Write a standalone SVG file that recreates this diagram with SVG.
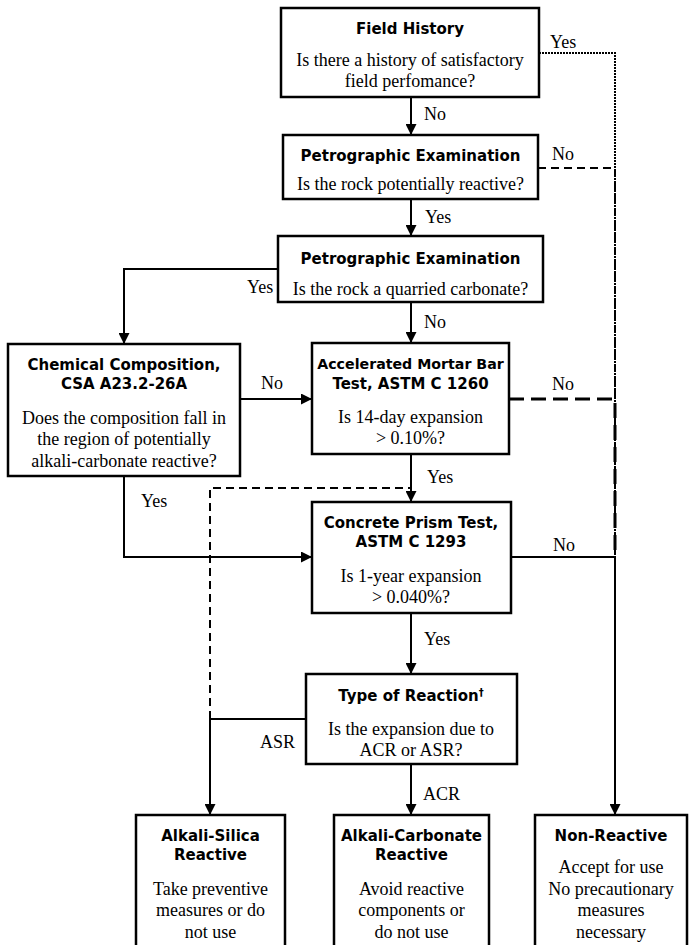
<svg xmlns="http://www.w3.org/2000/svg" width="689" height="945" viewBox="0 0 689 945">
<style>
  .box { fill: #fff; stroke: #000; stroke-width: 2.5; }
  .t { font-family: "DejaVu Sans", "Liberation Sans", sans-serif; font-weight: bold; font-size: 15px; text-anchor: middle; fill: #000; }
  .b { font-family: "Liberation Serif", "Times New Roman", serif; font-size: 18px; text-anchor: middle; fill: #000; }
  .l { font-family: "Liberation Serif", "Times New Roman", serif; font-size: 18px; fill: #000; }
  .c { fill: none; stroke: #000; stroke-width: 2; }
  .dot { fill: none; stroke: #000; stroke-width: 2; stroke-dasharray: 2 1; }
  .dash { fill: none; stroke: #000; stroke-width: 2; stroke-dasharray: 8 5; }
  .ldash { fill: none; stroke: #000; stroke-width: 3; stroke-dasharray: 15 7; }
  .sup { font-size: 10px; }
  .narrow { font-size: 14.2px; }
</style>
<defs>
  <marker id="ah" viewBox="0 0 10 10" refX="10" refY="5" markerWidth="11" markerHeight="11" markerUnits="userSpaceOnUse" orient="auto">
    <path d="M0,0 L10,5 L0,10 z" fill="#000"/>
  </marker>
</defs>

<g id="connectors">
  <path class="c" d="M411,97 V135" marker-end="url(#ah)"/>
  <path class="c" d="M411,199 V236" marker-end="url(#ah)"/>
  <path class="c" d="M278,269 H124 V344" marker-end="url(#ah)"/>
  <path class="c" d="M411,302 V343" marker-end="url(#ah)"/>
  <path class="c" d="M240,399 H312" marker-end="url(#ah)"/>
  <path class="c" d="M411,454 V502" marker-end="url(#ah)"/>
  <path class="c" d="M124,476 V557 H312" marker-end="url(#ah)"/>
  <path class="c" d="M411,613 V674" marker-end="url(#ah)"/>
  <path class="c" d="M306,719 H210 V815" marker-end="url(#ah)"/>
  <path class="c" d="M411,764 V815" marker-end="url(#ah)"/>
  <path class="dash" d="M210,719 V488 H411"/>
  <path class="dot" d="M539,53 H615 V557"/>
  <path class="dash" d="M538,168 H615 V557"/>
  <path class="ldash" d="M509,399 H615 V557"/>
  <path class="c" d="M511,557 H615 V815" marker-end="url(#ah)"/>
</g>

<g id="labels">
  <text class="l" x="550" y="48">Yes</text>
  <text class="l" x="424" y="120">No</text>
  <text class="l" x="552" y="160">No</text>
  <text class="l" x="425" y="223">Yes</text>
  <text class="l" x="247" y="293">Yes</text>
  <text class="l" x="424" y="328">No</text>
  <text class="l" x="261" y="389">No</text>
  <text class="l" x="552" y="390">No</text>
  <text class="l" x="427" y="483">Yes</text>
  <text class="l" x="141" y="507">Yes</text>
  <text class="l" x="553" y="551">No</text>
  <text class="l" x="424" y="645">Yes</text>
  <text class="l" x="260" y="748">ASR</text>
  <text class="l" x="423" y="800">ACR</text>
</g>

<g id="field-history">
  <rect class="box" x="281" y="8" width="258" height="89"/>
  <text class="t" x="410" y="34">Field History</text>
  <text class="b" x="410" y="66">Is there a history of satisfactory</text>
  <text class="b" x="410" y="87">field perfomance?</text>
</g>

<g id="petro-1">
  <rect class="box" x="283" y="135" width="255" height="64"/>
  <text class="t" x="410.5" y="161">Petrographic Examination</text>
  <text class="b" x="410.5" y="190">Is the rock potentially reactive?</text>
</g>

<g id="petro-2">
  <rect class="box" x="278" y="236" width="265" height="66"/>
  <text class="t" x="410.5" y="264">Petrographic Examination</text>
  <text class="b" x="410.5" y="295">Is the rock a quarried carbonate?</text>
</g>

<g id="chemical">
  <rect class="box" x="8" y="344" width="232" height="132"/>
  <text class="t" x="124" y="370">Chemical Composition,</text>
  <text class="t" x="124" y="389">CSA A23.2-26A</text>
  <text class="b" x="124" y="424">Does the composition fall in</text>
  <text class="b" x="124" y="445">the region of potentially</text>
  <text class="b" x="124" y="467">alkali-carbonate reactive?</text>
</g>

<g id="mortar-bar">
  <rect class="box" x="312" y="343" width="197" height="111"/>
  <text class="t narrow" x="410.5" y="369">Accelerated Mortar Bar</text>
  <text class="t" x="410.5" y="389">Test, ASTM C 1260</text>
  <text class="b" x="410.5" y="423">Is 14-day expansion</text>
  <text class="b" x="410.5" y="444">&gt; 0.10%?</text>
</g>

<g id="concrete-prism">
  <rect class="box" x="312" y="502" width="199" height="111"/>
  <text class="t" x="411" y="528">Concrete Prism Test,</text>
  <text class="t" x="411" y="547">ASTM C 1293</text>
  <text class="b" x="411" y="582">Is 1-year expansion</text>
  <text class="b" x="411" y="603">&gt; 0.040%?</text>
</g>

<g id="reaction-type">
  <rect class="box" x="306" y="674" width="211" height="90"/>
  <text class="t" x="411" y="701">Type of Reaction<tspan class="sup" dy="-5">†</tspan></text>
  <text class="b" x="411" y="735">Is the expansion due to</text>
  <text class="b" x="411" y="756">ACR or ASR?</text>
</g>

<g id="alkali-silica">
  <rect class="box" x="136" y="815" width="149" height="145"/>
  <text class="t" x="210.5" y="841">Alkali-Silica</text>
  <text class="t" x="210.5" y="860">Reactive</text>
  <text class="b" x="210.5" y="895">Take preventive</text>
  <text class="b" x="210.5" y="916">measures or do</text>
  <text class="b" x="210.5" y="938">not use</text>
</g>

<g id="alkali-carbonate">
  <rect class="box" x="334" y="815" width="155" height="145"/>
  <text class="t" x="411.5" y="841">Alkali-Carbonate</text>
  <text class="t" x="411.5" y="860">Reactive</text>
  <text class="b" x="411.5" y="895">Avoid reactive</text>
  <text class="b" x="411.5" y="916">components or</text>
  <text class="b" x="411.5" y="938">do not use</text>
</g>

<g id="non-reactive">
  <rect class="box" x="535" y="815" width="152" height="145"/>
  <text class="t" x="611" y="841">Non-Reactive</text>
  <text class="b" x="611" y="873">Accept for use</text>
  <text class="b" x="611" y="895">No precautionary</text>
  <text class="b" x="611" y="916">measures</text>
  <text class="b" x="611" y="938">necessary</text>
</g>
</svg>
